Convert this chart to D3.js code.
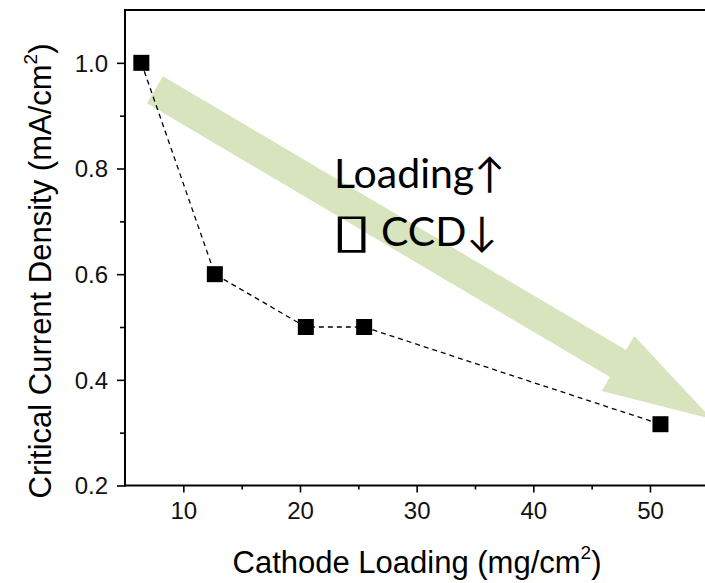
<!DOCTYPE html>
<html><head><meta charset="utf-8">
<script src="https://cdn.jsdelivr.net/npm/d3@7/dist/d3.min.js"></script>
<style>
html,body{margin:0;padding:0;background:#fff;}
svg{display:block;}
</style></head>
<body>
<svg id="chart" width="705" height="583"></svg>
<script>
// ---- data ----
const loading = [6.4, 12.7, 20.5, 25.5, 50.9];      // mg/cm2
const ccd     = [1.0, 0.6, 0.5, 0.5, 0.316];        // mA/cm2
const xTicks = [10, 20, 30, 40, 50];
const xMinor = [15, 25, 35, 45];
const yTicks = [0.2, 0.4, 0.6, 0.8, 1.0];
const yMinor = [0.3, 0.5, 0.7, 0.9];
const xDomain = [5, 55];
const yDomain = [0.2, 1.1];
// annotation arrow (data coords): start center and tip
const arrowStart = [7.57, 0.949];
const arrowTip   = [55.3, 0.326];
const annotLine1 = "Loading\u2191";
const annotBox   = "\u25AF";
const annotLine2 = "CCD\u2193";

// ---- layout ----
const svg = d3.select("#chart");
const pLeft = 125, pTop = 10, pRight = 708.3, pBottom = 485.5;
const x = d3.scaleLinear().domain(xDomain).range([pLeft, pRight]);
const y = d3.scaleLinear().domain(yDomain).range([pBottom, pTop]);
const axisFont = "'Liberation Sans', Arial, sans-serif";

// green arrow
(function(){
  const sx = x(arrowStart[0]), sy = y(arrowStart[1]);
  const tx = x(arrowTip[0]), ty = y(arrowTip[1]);
  const dx = tx - sx, dy = ty - sy, L = Math.hypot(dx, dy);
  const ux = dx / L, uy = dy / L, nx = -uy, ny = ux;
  const sw = 15.7, hw = 32, hl = 109;
  const bx = tx - hl * ux, by = ty - hl * uy;
  const pts = [
    [sx + sw*nx, sy + sw*ny], [bx + sw*nx, by + sw*ny], [bx + hw*nx, by + hw*ny],
    [tx, ty],
    [bx - hw*nx, by - hw*ny], [bx - sw*nx, by - sw*ny], [sx - sw*nx, sy - sw*ny]
  ];
  svg.append("path").attr("d", d3.line()(pts) + "Z").attr("fill", "#d7e4bd");
})();

// annotation text
svg.append("text").attr("x", 334).attr("y", 188)
  .attr("font-family", "Lato, 'Open Sans', sans-serif").attr("font-size", 41)
  .attr("fill", "#000").text(annotLine1);
svg.append("text").attr("transform", "translate(331,247) scale(1.7,1.08)")
  .attr("font-family", "'DejaVu Sans', sans-serif").attr("font-size", 44)
  .attr("fill", "#000").text(annotBox);
svg.append("text").attr("x", 381).attr("y", 246)
  .attr("font-family", "Lato, 'Open Sans', sans-serif").attr("font-size", 41)
  .attr("fill", "#000").text(annotLine2);

// dashed line
svg.append("path")
  .datum(loading.map((v, i) => [v, ccd[i]]))
  .attr("d", d3.line().x(d => x(d[0])).y(d => y(d[1])))
  .attr("fill", "none").attr("stroke", "#000").attr("stroke-width", 1.3)
  .attr("stroke-dasharray", "5,4");

// markers
svg.selectAll("rect.pt").data(loading.map((v, i) => [v, ccd[i]])).enter()
  .append("rect").attr("class", "pt")
  .attr("x", d => x(d[0]) - 8).attr("y", d => y(d[1]) - 8)
  .attr("width", 16).attr("height", 16).attr("fill", "#000");

// axes
const gx = svg.append("g").attr("transform", `translate(0,${pBottom})`)
  .call(d3.axisBottom(x).tickValues(xTicks).tickSize(7).tickPadding(9).tickFormat(d3.format("d")));
const gxm = svg.append("g").attr("transform", `translate(0,${pBottom})`)
  .call(d3.axisBottom(x).tickValues(xMinor).tickSize(4).tickFormat(""));
const gy = svg.append("g").attr("transform", `translate(${pLeft},0)`)
  .call(d3.axisLeft(y).tickValues(yTicks).tickSize(8).tickPadding(9).tickFormat(d3.format(".1f")));
const gym = svg.append("g").attr("transform", `translate(${pLeft},0)`)
  .call(d3.axisLeft(y).tickValues(yMinor).tickSize(5).tickFormat(""));
[gx, gxm, gy, gym].forEach(g => {
  g.select(".domain").remove();
  g.selectAll(".tick line").attr("stroke", "#000").attr("stroke-width", 1.6);
  g.selectAll(".tick text").attr("font-family", axisFont).attr("font-size", 24).attr("fill", "#111");
});
gy.selectAll(".tick text").attr("dy", "0.35em");

// frame lines (left, bottom, top)
svg.append("line").attr("x1", pLeft).attr("x2", pLeft).attr("y1", pTop).attr("y2", pBottom + 1)
  .attr("stroke", "#000").attr("stroke-width", 2);
svg.append("line").attr("x1", pLeft - 1).attr("x2", 705).attr("y1", pBottom).attr("y2", pBottom)
  .attr("stroke", "#000").attr("stroke-width", 2);
svg.append("line").attr("x1", pLeft - 1).attr("x2", 705).attr("y1", pTop).attr("y2", pTop)
  .attr("stroke", "#000").attr("stroke-width", 2);

// axis titles
const xt = svg.append("text").attr("x", 417).attr("y", 573).attr("text-anchor", "middle")
  .attr("font-family", axisFont).attr("font-size", 31).attr("fill", "#000");
xt.append("tspan").text("Cathode Loading (mg/cm");
xt.append("tspan").attr("font-size", 19).attr("dy", -14).text("2");
xt.append("tspan").attr("dy", 14).text(")");

const yt = svg.append("text").attr("transform", "translate(51,271) rotate(-90)")
  .attr("text-anchor", "middle")
  .attr("font-family", axisFont).attr("font-size", 31).attr("fill", "#000");
yt.append("tspan").text("Critical Current Density (mA/cm");
yt.append("tspan").attr("font-size", 19).attr("dy", -14).text("2");
yt.append("tspan").attr("dy", 14).text(")");
</script>
</body></html>
